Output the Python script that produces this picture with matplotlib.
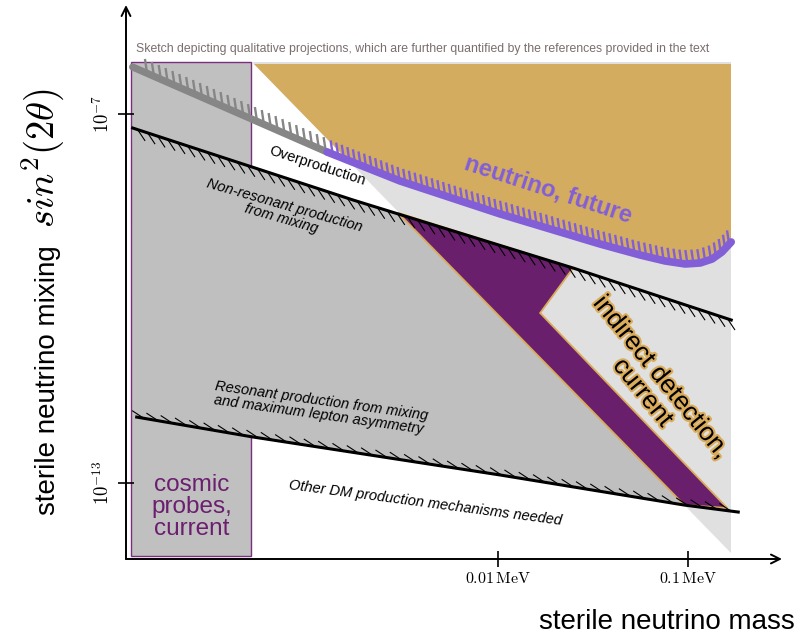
import numpy as np
import matplotlib
matplotlib.use("Agg")
import matplotlib.pyplot as plt
import matplotlib.patheffects as pe
from matplotlib.collections import LineCollection
from matplotlib.patches import Polygon, Rectangle


OUTPUT_FILE = "out.png"
FIG_W, FIG_H = 796, 639

# axis ranges: sterile neutrino mass [MeV], mixing sin^2(2 theta)
MASS_RANGE = (1.107e-4, 0.3126)
MIX_RANGE = (5.81e-15, 5.92e-6)

# non-resonant production from mixing (upper black line)
NONRES_M = [1.20e-4, 1.73e-3, 2.49e-2, 0.169]
NONRES_MIX = [5.92e-8, 4.00e-9, 3.13e-10, 4.47e-11]

# resonant production, maximum lepton asymmetry (lower black line)
RES_M = [1.26e-4, 5.15e-4, 1.028e-2, 9.57e-2, 0.184]
RES_MIX = [1.18e-12, 5.60e-13, 1.35e-13, 4.38e-14, 3.37e-14]

# current neutrino bound (grey) and future reach (violet)
CURRENT_M = [1.20e-4, 1.265e-3]
CURRENT_MIX = [5.81e-7, 2.41e-8]
FUTURE_M = [1.265e-3, 3.06e-3, 1.028e-2, 3.45e-2, 5.61e-2, 7.60e-2, 9.68e-2, 0.116, 0.134, 0.151, 0.169]
FUTURE_MIX = [2.41e-8, 8.14e-9, 2.37e-9, 7.69e-10, 5.09e-10, 4.07e-10, 3.64e-10, 3.78e-10, 4.38e-10, 5.70e-10, 8.30e-10]

# indirect detection edge (diagonal) and current excluded wedge
EDGE_M = [5.09e-4, 0.169]
EDGE_MIX = [7.02e-7, 7.28e-15]
WEDGE_M = [2.99e-3, 2.49e-2, 1.67e-2, 0.161, 9.57e-2]
WEDGE_MIX = [2.46e-9, 3.13e-10, 5.81e-11, 3.92e-14, 4.38e-14]
GOLD_TOP = 6.50e-7

# cosmic probes box
COSMIC_M = [1.175e-4, 5.04e-4]
COSMIC_MIX = [6.50e-15, 7.02e-7]

X_TICKS = [0.01, 0.1]
X_TICK_LABELS = [r"$0.01\,\mathrm{MeV}$", r"$0.1\,\mathrm{MeV}$"]
Y_TICKS = [1e-7, 1e-13]
Y_TICK_LABELS = [r"$10^{-7}$", r"$10^{-13}$"]

GREY_BAND = "#bfbfbf"
LIGHT_GREY = "#e0e0e0"
GOLD = "#d4ac5f"
WEDGE_PURPLE = "#6a1f6d"
FUTURE_VIOLET = "#825fd7"
BOX_PURPLE = "#7b2d7f"
CURRENT_GREY = "#868686"


def fig_xy(px, py):
    return px / FIG_W, 1 - py / FIG_H


def add_hatches(ax, xs, ys, spacing, length, direction, start=0.0, skip=0.0, **kwargs):
    """Short ticks along a curve, built in display pixels then mapped back to data."""
    pts = ax.transData.transform(np.column_stack([xs, ys]))
    seg = np.hypot(*np.diff(pts, axis=0).T)
    cum = np.concatenate([[0.0], np.cumsum(seg)])
    s = np.arange(skip + spacing / 2, cum[-1], spacing)
    base = np.column_stack([np.interp(s, cum, pts[:, 0]), np.interp(s, cum, pts[:, 1])])
    d = np.asarray(direction, dtype=float)
    d = d / np.hypot(*d)
    a = base + d * start
    b = base + d * (start + length)
    inv = ax.transData.inverted()
    segments = np.stack([inv.transform(a), inv.transform(b)], axis=1)
    ax.add_collection(LineCollection(segments, **kwargs))


def main() -> None:
    plt.rcParams["font.family"] = ["Liberation Sans", "DejaVu Sans"]
    plt.rcParams["mathtext.fontset"] = "cm"

    fig = plt.figure(figsize=(FIG_W / 100, FIG_H / 100), dpi=100)
    ax = fig.add_axes([126 / FIG_W, 1 - 559 / FIG_H, 656 / FIG_W, 554 / FIG_H])
    ax.set_xscale("log")
    ax.set_yscale("log")
    ax.set_xlim(*MASS_RANGE)
    ax.set_ylim(*MIX_RANGE)
    for spine in ax.spines.values():
        spine.set_visible(False)
    ax.minorticks_off()

    # cosmic probes box
    ax.fill([COSMIC_M[0], COSMIC_M[1], COSMIC_M[1], COSMIC_M[0]],
            [COSMIC_MIX[0], COSMIC_MIX[0], COSMIC_MIX[1], COSMIC_MIX[1]],
            facecolor="#c0c0c0", edgecolor=BOX_PURPLE, lw=1.0, zorder=0.8)

    # band between the two production lines, cut at the right edge of the sketch
    band = ax.fill(np.r_[NONRES_M, RES_M[::-1]], np.r_[NONRES_MIX, RES_MIX[::-1]],
                   color=GREY_BAND, lw=0, zorder=1)[0]
    cut = Rectangle((MASS_RANGE[0], MIX_RANGE[0]), EDGE_M[1] - MASS_RANGE[0],
                    MIX_RANGE[1] - MIX_RANGE[0], transform=ax.transData)
    band.set_clip_path(cut)

    # light grey triangle right of the indirect detection edge
    tri = Polygon([[EDGE_M[0], EDGE_MIX[0]], [EDGE_M[1], EDGE_MIX[0]], [EDGE_M[1], EDGE_MIX[1]]],
                  closed=True, facecolor=LIGHT_GREY, lw=0, zorder=1.2)
    ax.add_patch(tri)

    # gold region above the neutrino lines, clipped to the triangle
    gold_x = [CURRENT_M[0], FUTURE_M[-1]] + FUTURE_M[::-1] + CURRENT_M[::-1]
    gold_y = [GOLD_TOP, GOLD_TOP] + FUTURE_MIX[::-1] + CURRENT_MIX[::-1]
    gold = ax.fill(gold_x, gold_y, color=GOLD, lw=0, zorder=1.5)[0]
    gold.set_clip_path(tri)

    # indirect detection wedge
    ax.fill(WEDGE_M, WEDGE_MIX, facecolor=WEDGE_PURPLE, edgecolor="#d9ab5a", lw=1.3, zorder=3)

    # hatches
    add_hatches(ax, CURRENT_M, CURRENT_MIX, 7.5, 14.5, (-0.15, 1), skip=12,
                colors=CURRENT_GREY, linewidths=1.7, zorder=4)
    add_hatches(ax, FUTURE_M, FUTURE_MIX, 6.0, 14, (-0.15, 1), skip=3,
                colors=FUTURE_VIOLET, linewidths=1.7, zorder=4)
    add_hatches(ax, NONRES_M, NONRES_MIX, 10.5, 13.5, (0.55, -0.83),
                colors="black", linewidths=0.8, zorder=4)
    add_hatches(ax, RES_M, RES_MIX, 14.5, 14, (-0.84, 0.55),
                colors="black", linewidths=0.8, zorder=4)

    ax.plot(CURRENT_M, CURRENT_MIX, color=CURRENT_GREY, lw=5.2, solid_capstyle="round", zorder=5)
    ax.plot(FUTURE_M, FUTURE_MIX, color=FUTURE_VIOLET, lw=5.5, solid_capstyle="round", zorder=5)
    ax.plot(NONRES_M, NONRES_MIX, color="black", lw=2.2, zorder=5)
    ax.plot(RES_M, RES_MIX, color="black", lw=2.2, zorder=5)

    # axes with arrows
    arrow = dict(arrowstyle="->", lw=1.4, color="black", shrinkA=0, shrinkB=0, mutation_scale=16)
    ax.annotate("", xy=(1, 0), xytext=(0, 0), xycoords="axes fraction", arrowprops=arrow, zorder=6)
    ax.annotate("", xy=(0, 1), xytext=(0, 0), xycoords="axes fraction", arrowprops=arrow, zorder=6)

    ax.set_xticks(X_TICKS, labels=X_TICK_LABELS)
    ax.set_yticks(Y_TICKS, labels=Y_TICK_LABELS)
    ax.tick_params(direction="inout", length=11, width=1.2, labelsize=11.5)
    ax.tick_params(axis="x", pad=3)
    ax.tick_params(axis="y", pad=4, labelrotation=90, labelsize=13.5)
    for lbl in ax.get_yticklabels():
        lbl.set_va("center")

    # annotations
    fig.text(*fig_xy(136, 49), "Sketch depicting qualitative projections, which are further "
             "quantified by the references provided in the text",
             ha="left", va="center", fontsize=8.8, color="#7a6d6d")
    fig.text(*fig_xy(317, 166), "Overproduction", rotation=-18, ha="center", va="center",
             fontsize=10.5)
    fig.text(*fig_xy(283, 212), "Non-resonant production\nfrom mixing", rotation=-16,
             ha="center", va="center", fontsize=10.5, style="italic", linespacing=1.0)
    fig.text(*fig_xy(320, 408), "Resonant production from mixing\nand maximum lepton asymmetry",
             rotation=-8, ha="center", va="center", fontsize=10.5, style="italic", linespacing=1.0)
    fig.text(*fig_xy(425, 503), "Other DM production mechanisms needed", rotation=-7.5,
             ha="center", va="center", fontsize=10.5, style="italic")
    fig.text(*fig_xy(548, 189), "neutrino, future", rotation=-18, ha="center", va="center",
             fontsize=17, fontweight="bold", color=FUTURE_VIOLET)
    fig.text(*fig_xy(652, 385), "indirect detection,\ncurrent", rotation=-51, ha="center",
             va="center", fontsize=18.5, linespacing=1.0,
             path_effects=[pe.withStroke(linewidth=3, foreground="#d9ab5a")])
    fig.text(*fig_xy(192, 507), "cosmic\nprobes,\ncurrent", ha="center", va="center",
             fontsize=17.5, color="#6b1f6e", linespacing=1.0)

    fig.text(*fig_xy(795, 622), "sterile neutrino mass", ha="right", va="center", fontsize=20)
    fig.text(*fig_xy(55, 380), "sterile neutrino mixing", rotation=90, rotation_mode="anchor",
             ha="center", va="baseline", fontsize=20)
    fig.text(*fig_xy(55, 158), r"$sin^2(2\theta)$", rotation=90, rotation_mode="anchor",
             ha="center", va="baseline", fontsize=28)

    fig.savefig(OUTPUT_FILE, dpi=100)


if __name__ == "__main__":
    main()
